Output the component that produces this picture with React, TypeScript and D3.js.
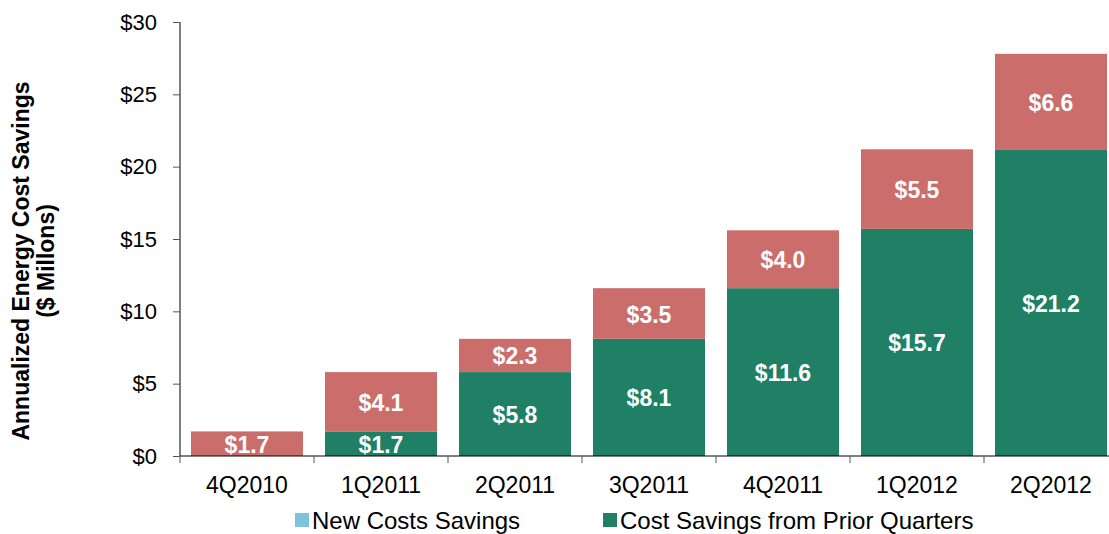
import { useEffect, useRef } from "react";
import * as d3 from "d3";

const quarters = ["4Q2010", "1Q2011", "2Q2011", "3Q2011", "4Q2011", "1Q2012", "2Q2012"];
const priorSavings = [0, 1.7, 5.8, 8.1, 11.6, 15.7, 21.2];
const newSavings = [1.7, 4.1, 2.3, 3.5, 4.0, 5.5, 6.6];
const yTicks = [0, 5, 10, 15, 20, 25, 30];

const width = 1109;
const height = 534;
const margin = { top: 22, left: 180, bottom: 78 };

const green = "#1f8065";
const red = "#cb6d6a";
const lightBlue = "#7cc4dd";
const font = "Arial, 'Liberation Sans', sans-serif";

export default function App() {
  const svgRef = useRef<SVGSVGElement>(null);

  useEffect(() => {
    const svg = d3.select(svgRef.current);
    svg.selectAll("*").remove();

    const x = d3
      .scaleBand()
      .domain(quarters)
      .range([margin.left, margin.left + 134 * 7])
      .paddingInner(0.164)
      .paddingOuter(0.082);
    const y = d3.scaleLinear().domain([0, 30]).range([height - margin.bottom, margin.top]);

    const rows = quarters.map((q, i) => ({
      q,
      prior: priorSavings[i],
      fresh: newSavings[i],
    }));

    // y axis
    const yAxis = svg
      .append("g")
      .attr("transform", `translate(${margin.left},0)`)
      .call(
        d3
          .axisLeft(y)
          .tickValues(yTicks)
          .tickSize(7)
          .tickPadding(16)
          .tickFormat((d) => `$${d}`)
      );
    yAxis.select(".domain").attr("stroke", "#000").attr("d", `M0,${y(0)}V${y(30)}`);
    yAxis.selectAll("line").attr("stroke", "#555");
    yAxis.selectAll("text").attr("font-family", font).attr("font-size", 22).attr("fill", "#000");

    // bars
    const g = svg.append("g");
    g.selectAll("rect.prior")
      .data(rows.filter((r) => r.prior > 0))
      .join("rect")
      .attr("class", "prior")
      .attr("x", (d) => x(d.q)!)
      .attr("width", x.bandwidth())
      .attr("y", (d) => y(d.prior))
      .attr("height", (d) => y(0) - y(d.prior))
      .attr("fill", green);

    g.selectAll("rect.fresh")
      .data(rows)
      .join("rect")
      .attr("class", "fresh")
      .attr("x", (d) => x(d.q)!)
      .attr("width", x.bandwidth())
      .attr("y", (d) => y(d.prior + d.fresh))
      .attr("height", (d) => y(d.prior) - y(d.prior + d.fresh))
      .attr("fill", red);

    // labels
    const label = (sel: any) =>
      sel
        .attr("text-anchor", "middle")
        .attr("dominant-baseline", "central")
        .attr("font-family", font)
        .attr("font-weight", "bold")
        .attr("font-size", 23)
        .attr("fill", "#fff");

    g.selectAll("text.prior")
      .data(rows.filter((r) => r.prior > 0))
      .join("text")
      .attr("class", "prior")
      .attr("x", (d) => x(d.q)! + x.bandwidth() / 2)
      .attr("y", (d) => y(d.prior / 2) + 1)
      .text((d) => `$${d.prior.toFixed(1)}`)
      .call(label);

    g.selectAll("text.fresh")
      .data(rows)
      .join("text")
      .attr("class", "fresh")
      .attr("x", (d) => x(d.q)! + x.bandwidth() / 2)
      .attr("y", (d) => y(d.prior + d.fresh / 2) + 1)
      .text((d) => `$${d.fresh.toFixed(1)}`)
      .call(label);

    // x axis
    const step = x.step();
    const xAxis = svg.append("g").attr("transform", `translate(0,${y(0)})`);
    xAxis
      .append("line")
      .attr("x1", margin.left)
      .attr("x2", width)
      .attr("stroke", "#000");
    xAxis
      .selectAll("line.tick")
      .data(d3.range(quarters.length + 1))
      .join("line")
      .attr("class", "tick")
      .attr("x1", (i) => margin.left + i * step)
      .attr("x2", (i) => margin.left + i * step)
      .attr("y1", 0)
      .attr("y2", 7)
      .attr("stroke", "#555");
    xAxis
      .selectAll("text")
      .data(quarters)
      .join("text")
      .attr("x", (d) => x(d)! + x.bandwidth() / 2)
      .attr("y", 37)
      .attr("text-anchor", "middle")
      .attr("font-family", font)
      .attr("font-size", 23)
      .text((d) => d);

    // y title
    const title = svg
      .append("text")
      .attr("transform", `translate(29,261) rotate(-90)`)
      .attr("text-anchor", "middle")
      .attr("font-family", font)
      .attr("font-weight", "bold")
      .attr("font-size", 23);
    title.append("tspan").attr("x", 0).attr("dy", 0).text("Annualized Energy Cost Savings");
    title.append("tspan").attr("x", 0).attr("dy", 25).text("($ Millons)");

    // legend
    const legend = [
      { name: "New Costs Savings", color: lightBlue, x: 295 },
      { name: "Cost Savings from Prior Quarters", color: green, x: 603 },
    ];
    const lg = svg.append("g").selectAll("g").data(legend).join("g");
    lg.append("rect")
      .attr("x", (d) => d.x)
      .attr("y", 513)
      .attr("width", 14)
      .attr("height", 14)
      .attr("fill", (d) => d.color);
    lg.append("text")
      .attr("x", (d) => d.x + 17)
      .attr("y", 529)
      .attr("font-family", font)
      .attr("font-size", 24)
      .text((d) => d.name);
  }, []);

  return (
    <svg
      ref={svgRef}
      width={width}
      height={height}
      style={{ position: "absolute", left: 0, top: 0, background: "#fff" }}
    />
  );
}
